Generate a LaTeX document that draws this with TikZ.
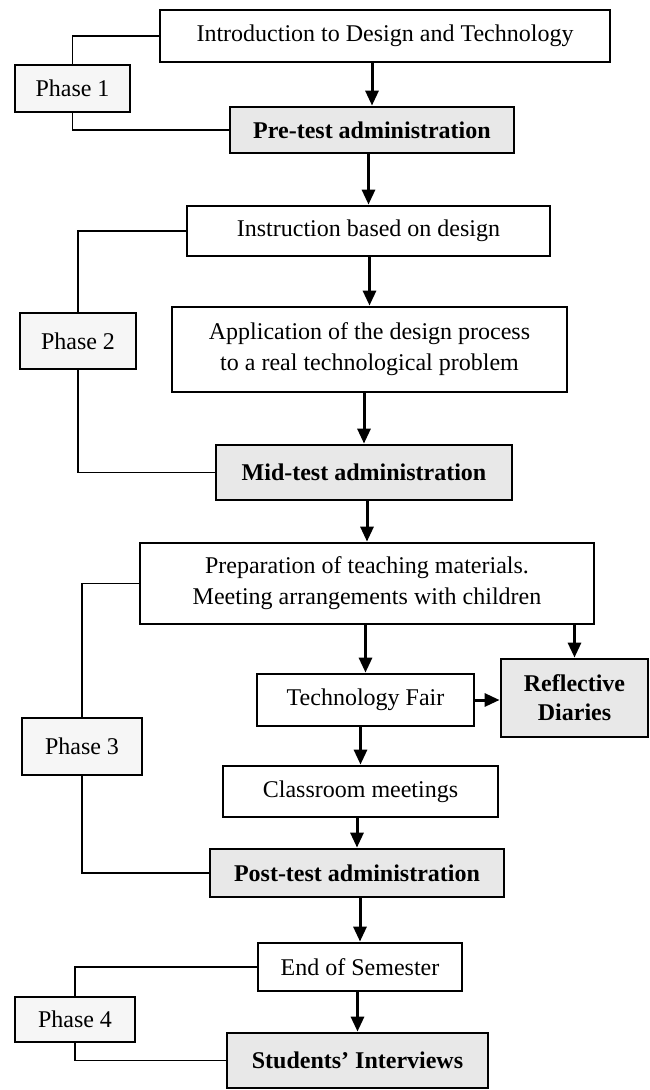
\documentclass[tikz,border=0pt]{standalone}
\usepackage{fontspec}
\setmainfont{Liberation Serif}
\usetikzlibrary{arrows.meta}
\definecolor{boxgray}{HTML}{E8E8E8}
\definecolor{phasegray}{HTML}{F6F6F6}
\begin{document}
\begin{tikzpicture}[x=1pt,y=-1pt,
  base/.style={draw=black, inner sep=0pt, align=center, font=\fontsize{24}{31}\selectfont},
  stepbox/.style={base, line width=2.8pt, fill=white},
  testbox/.style={base, line width=2.8pt, fill=boxgray, font=\fontsize{24}{29}\selectfont\bfseries},
  phasebox/.style={base, line width=1.4pt, fill=phasegray},
  arr/.style={line width=3pt, -{Triangle[length=15pt,width=13pt]}},
  link/.style={line width=1.4pt},
  wh/.style 2 args={minimum width=#1pt, minimum height=#2pt}
]
\useasboundingbox (0,0) rectangle (650,1090);

% main column
\node[stepbox, wh={450}{52}] (intro) at (385,36) {Introduction to Design and Technology};
\node[testbox, wh={284}{46}] (pre) at (372,130) {Pre-test administration};
\node[stepbox, wh={363}{50}] (instr) at (368.5,231) {Instruction based on design};
\node[stepbox, wh={395}{85}] (appl) at (369.5,349.5) {Application of the design process\\to a real technological problem};
\node[testbox, wh={296}{55}] (mid) at (364,472.5) {Mid-test administration};
\node[stepbox, wh={454}{81}] (prep) at (367,583.5) {Preparation of teaching materials.\\Meeting arrangements with children};
\node[stepbox, wh={217}{52}] (tech) at (365.5,700) {Technology Fair};
\node[testbox, wh={147}{78}] (refl) at (574.5,698) {Reflective\\Diaries};
\node[stepbox, wh={275}{51}] (class) at (360.5,791.5) {Classroom meetings};
\node[testbox, wh={294}{48}] (post) at (357,873) {Post-test administration};
\node[stepbox, wh={204}{48}] (endsem) at (360,967) {End of Semester};
\node[testbox, wh={261}{55}] (stud) at (357.5,1060.5) {Students’ Interviews};

% phase boxes
\node[phasebox, wh={115}{47}] (p1) at (72.5,88.5) {Phase 1};
\node[phasebox, wh={116}{56}] (p2) at (78,341) {Phase 2};
\node[phasebox, wh={120}{57}] (p3) at (82,746.5) {Phase 3};
\node[phasebox, wh={120}{45}] (p4) at (75,1019.5) {Phase 4};

% phase brackets
\draw[link] (intro.west) -| (p1.north);
\draw[link] (p1.south) |- (pre.west);
\draw[link] (instr.west) -| (p2.north);
\draw[link] (p2.south) |- (mid.west);
\draw[link] (prep.west) -| (p3.north);
\draw[link] (p3.south) |- (post.west);
\draw[link] (endsem.west) -| (p4.north);
\draw[link] (p4.south) |- (stud.west);

% arrows
\draw[arr] (intro.south -| pre.north) -- (pre.north);
\draw[arr] (pre.south -| instr.north) -- (instr.north);
\draw[arr] (instr.south -| appl.north) -- (appl.north);
\draw[arr] (appl.south -| mid.north) -- (mid.north);
\draw[arr] (mid.south -| prep.north) -- (prep.north);
\draw[arr] (prep.south -| tech.north) -- (tech.north);
\draw[arr] (prep.south -| refl.north) -- (refl.north);
\draw[arr] (tech.east) -- (tech.east -| refl.west);
\draw[arr] (tech.south -| class.north) -- (class.north);
\draw[arr] (class.south -| post.north) -- (post.north);
\draw[arr] (post.south -| endsem.north) -- (endsem.north);
\draw[arr] (endsem.south -| stud.north) -- (stud.north);
\end{tikzpicture}
\end{document}
